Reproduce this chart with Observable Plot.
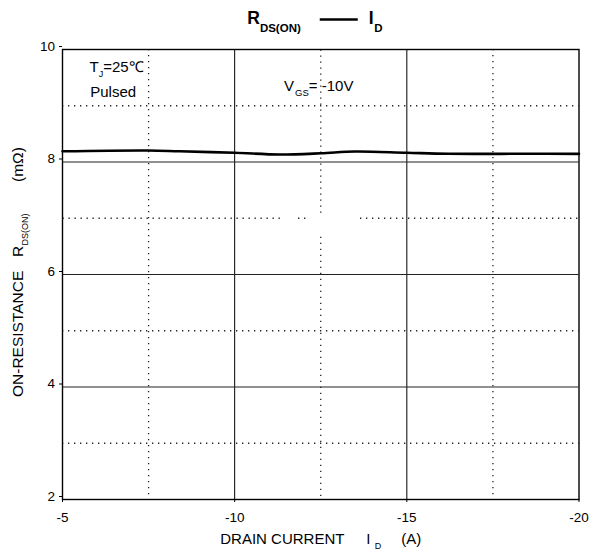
<!DOCTYPE html>
<html><head><meta charset="utf-8">
<script src="https://cdn.jsdelivr.net/npm/d3@7"></script>
<script src="https://cdn.jsdelivr.net/npm/@observablehq/plot@0.6"></script>
<style>
body{margin:0;background:#fff}
svg{font-family:"Liberation Sans",Arial,sans-serif}
</style>
</head><body>
<div id="chart"></div>
<script>
// Data
const drainCurrentA = [-5, -7.5, -8.4, -10, -11.3, -12.5, -13.5, -15, -16.2, -18.5, -20];
const rdsOnMilliOhm = [8.19, 8.205, 8.19, 8.164, 8.133, 8.155, 8.187, 8.164, 8.146, 8.146, 8.145];

const xMajorTicks = [-5, -10, -15, -20];
const yMajorTicks = [2, 4, 6, 8, 10];
const xMinorGrid = [-7.5, -17.5];
const yMinorGrid = [3, 5, 9];
// dotted grid pieces with the gaps seen in the reference
const dottedY7Segments = [[-5, -11.41], [-11.84, -12.19], [-13.64, -20]];
const dottedX125Segments = [[10, 7.1], [6.67, 2]];

const titleParts = {main: "R", sub: "DS(ON)", right: "I", rightSub: "D"};
const annotations = {tj: "T", tjSub: "J", tjRest: "=25℃", pulsed: "Pulsed", vgs: "V", vgsSub: "GS", vgsRest: "= -10V"};
const annotationPos = {tj: [-5.8, 9.59], pulsed: [-5.82, 9.15], vgs: [-11.45, 9.25]};
const xLabel = {main: "DRAIN CURRENT", sym: "I", sub: "D", unit: "(A)"};
const yLabel = {main: "ON-RESISTANCE", sym: "R", sub: "DS(ON)", unit: "(mΩ)"};

const data = drainCurrentA.map((d, i) => ({x: d, y: rdsOnMilliOhm[i]}));
const dot = {stroke: "#222", strokeWidth: 1.3, strokeDasharray: "1.3,4.7"};

const plot = Plot.plot({
  width: 593,
  height: 553,
  marginLeft: 62,
  marginRight: 14.5,
  marginTop: 49,
  marginBottom: 54,
  style: {fontSize: "14px", color: "#000", background: "#fff", fontFamily: "'Liberation Sans', Arial, sans-serif"},
  x: {domain: [-5, -20], label: null},
  y: {domain: [2, 10], label: null},
  marks: [
    Plot.ruleX(xMinorGrid, dot),
    Plot.ruleY(yMinorGrid, dot),
    Plot.link(dottedY7Segments, {x1: d => d[0], x2: d => d[1], y1: () => 7, y2: () => 7, ...dot}),
    Plot.link(dottedX125Segments, {y1: d => d[0], y2: d => d[1], x1: () => -12.5, x2: () => -12.5, ...dot}),
    Plot.ruleX(xMajorTicks.slice(1, -1), {stroke: "#000", strokeWidth: 1}),
    Plot.ruleY(yMajorTicks.slice(1, -1), {stroke: "#222", strokeWidth: 1.2}),
    Plot.frame({stroke: "#000", strokeWidth: 1.4}),
    Plot.line(data, {x: "x", y: "y", curve: "catmull-rom", stroke: "#000", strokeWidth: 2.6}),
    Plot.axisX({ticks: xMajorTicks, tickFormat: d => String(d), tickSize: 3, tickPadding: 10, fontSize: 13.5, stroke: "#000"}),
    Plot.axisY({ticks: yMajorTicks, tickFormat: d => String(d), tickSize: 3, tickPadding: 4.5, dy: -3, fontSize: 13.5, stroke: "#000"})
  ]
});
document.getElementById("chart").appendChild(plot);

const sx = plot.scale("x"), sy = plot.scale("y");
const svg = d3.select(plot);
// enforce tick label size
svg.selectAll('g[aria-label$="tick label"]').style("font-size", "13.5px").attr("font-size", 13.5);
svg.selectAll('g[aria-label$="tick label"] text').style("font-size", "13.5px");

const cx = (sx.range[0] + sx.range[1]) / 2;
const cy = (sy.range[0] + sy.range[1]) / 2;
const g = svg.append("g").attr("fill", "#000").attr("text-anchor", "start");

// Title
const t = g.append("text").attr("x", cx - 73).attr("y", 23.5)
  .attr("font-weight", "bold").attr("font-size", 17.5);
t.append("tspan").text(titleParts.main);
t.append("tspan").attr("font-size", 11.5).attr("dy", 8).text(titleParts.sub);
g.append("line").attr("x1", cx - 0.5).attr("x2", cx + 37.5).attr("y1", 19.5).attr("y2", 19.5)
  .attr("stroke", "#000").attr("stroke-width", 2.6);
const t2 = g.append("text").attr("x", cx + 48.5).attr("y", 23.5)
  .attr("font-weight", "bold").attr("font-size", 17.5);
t2.append("tspan").text(titleParts.right);
t2.append("tspan").attr("font-size", 11.5).attr("dy", 8).attr("dx", 0.5).text(titleParts.rightSub);

// Annotations
const a1 = g.append("text").attr("x", sx.apply(annotationPos.tj[0])).attr("y", sy.apply(annotationPos.tj[1])).attr("font-size", 15);
a1.append("tspan").text(annotations.tj);
a1.append("tspan").attr("font-size", 9).attr("dy", 5).text(annotations.tjSub);
a1.append("tspan").attr("dy", -5).text(annotations.tjRest);
g.append("text").attr("x", sx.apply(annotationPos.pulsed[0])).attr("y", sy.apply(annotationPos.pulsed[1])).attr("font-size", 15).text(annotations.pulsed);
const a3 = g.append("text").attr("x", sx.apply(annotationPos.vgs[0])).attr("y", sy.apply(annotationPos.vgs[1])).attr("font-size", 15);
a3.append("tspan").text(annotations.vgs);
a3.append("tspan").attr("font-size", 9.5).attr("dy", 5).attr("dx", 1).text(annotations.vgsSub);
a3.append("tspan").attr("dy", -5).text(annotations.vgsRest);

// X axis label
const xl = g.append("g").attr("font-size", 15);
xl.append("text").attr("x", cx - 100).attr("y", 544).text(xLabel.main);
xl.append("text").attr("x", cx + 46).attr("y", 544).text(xLabel.sym);
xl.append("text").attr("x", cx + 54.5).attr("y", 549).attr("font-size", 9).text(xLabel.sub);
xl.append("text").attr("x", cx + 81).attr("y", 544).text(xLabel.unit);

// Y axis label (rotated)
const yl = g.append("g").attr("font-size", 15.5).attr("transform", `translate(23,${cy}) rotate(-90)`);
yl.append("text").attr("x", -123).attr("y", 0).text(yLabel.main);
yl.append("text").attr("x", 17).attr("y", 0).text(yLabel.sym);
yl.append("text").attr("x", 28.5).attr("y", 5).attr("font-size", 9).text(yLabel.sub);
yl.append("text").attr("x", 92).attr("y", 0).text(yLabel.unit);
</script>
</body></html>
